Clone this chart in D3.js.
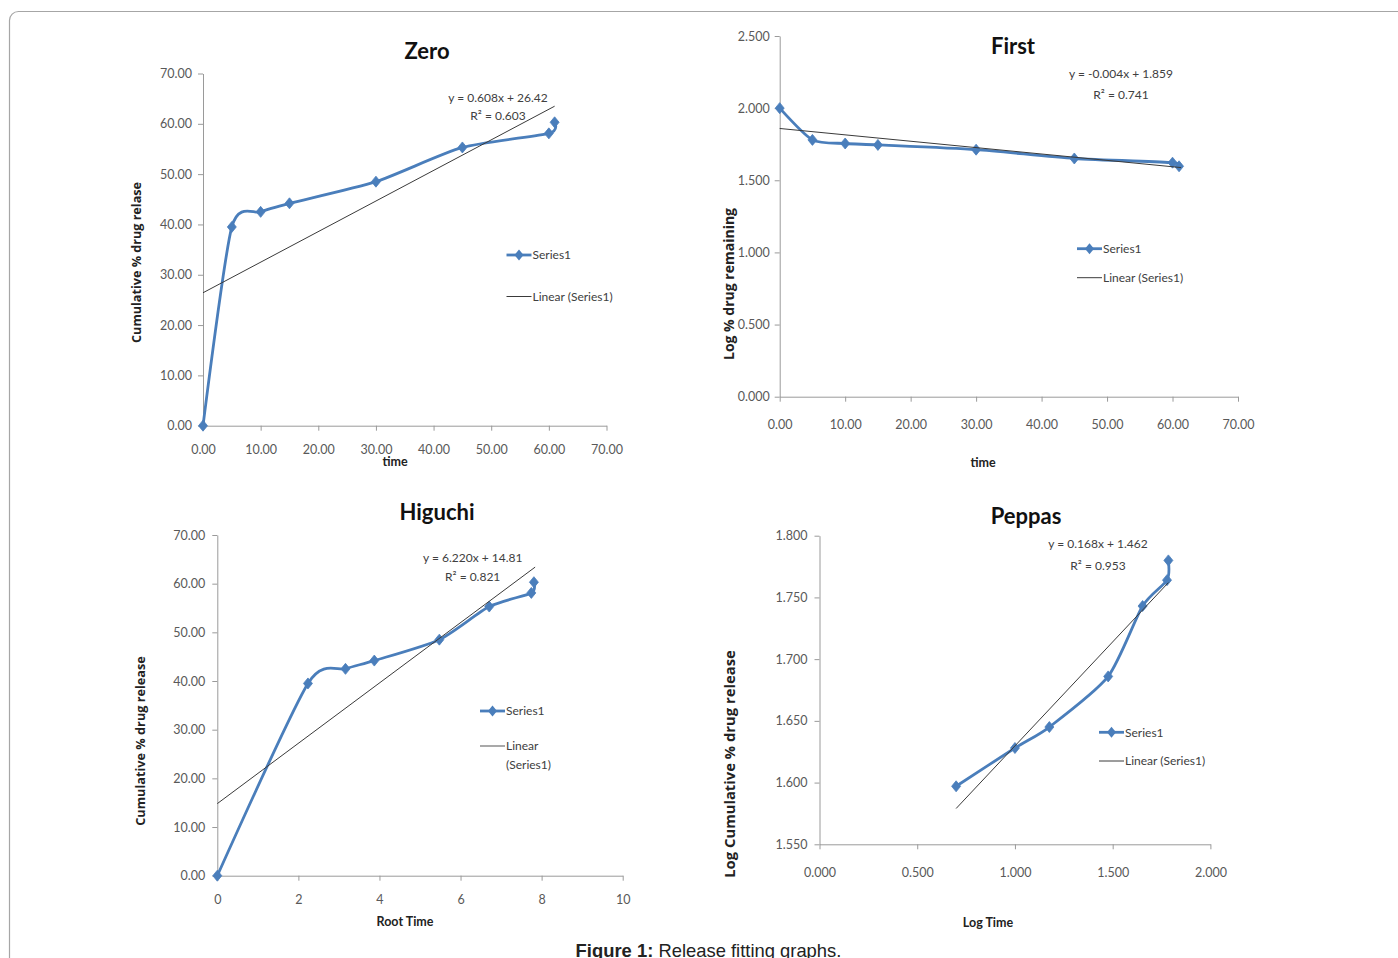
<!DOCTYPE html>
<html>
<head>
<meta charset="utf-8">
<script src="https://cdn.jsdelivr.net/npm/d3@7"></script>
<style>
  body { margin: 0; background: #fff; }
  svg { display: block; }
</style>
</head>
<body>
<svg id="fig" width="1398" height="958"></svg>
<script>

// ---- data ----
var timeMin      = [0, 5, 10, 15, 30, 45, 60, 61];
var zeroRelease  = [0, 39.5, 42.5, 44.2, 48.5, 55.3, 58.1, 60.3];
var zeroTrendX   = [0, 61];
var zeroTrendY   = [26.42, 63.5];

var firstLogRem  = [2.000, 1.780, 1.755, 1.745, 1.712, 1.651, 1.622, 1.597];
var firstTrendX  = [0, 61.3];
var firstTrendY  = [1.859, 1.588];

var rootTime     = [0, 2.236, 3.162, 3.873, 5.477, 6.708, 7.746, 7.810];
var higuchiRel   = [0, 39.5, 42.5, 44.2, 48.5, 55.3, 58.1, 60.3];
var higuchiTrendX = [0, 7.84];
var higuchiTrendY = [14.81, 63.4];

var logTime      = [0.699, 1.000, 1.176, 1.477, 1.653, 1.778, 1.785];
var logRelease   = [1.597, 1.628, 1.645, 1.686, 1.743, 1.764, 1.780];
var peppasTrendX = [0.699, 1.785];
var peppasTrendY = [1.579, 1.762];

var ticks70   = [0, 10, 20, 30, 40, 50, 60, 70];
var ticksLog  = [0, 0.5, 1.0, 1.5, 2.0, 2.5];
var ticksRoot = [0, 2, 4, 6, 8, 10];
var ticksPepX = [0, 0.5, 1.0, 1.5, 2.0];
var ticksPepY = [1.55, 1.60, 1.65, 1.70, 1.75, 1.80];

var equations = [
  ["y = 0.608x + 26.42", "R\u00b2 = 0.603"],
  ["y = -0.004x + 1.859", "R\u00b2 = 0.741"],
  ["y = 6.220x + 14.81", "R\u00b2 = 0.821"],
  ["y = 0.168x + 1.462", "R\u00b2 = 0.953"]
];

var NARROW = 'Lato, "Liberation Sans", sans-serif';
var WIDE   = '"Open Sans", "DejaVu Sans", sans-serif';
var BLUE   = "#4a7ebb";
var TXT    = "#404040";

var svg = d3.select("#fig");

// outer frame, runs off the right and bottom edges
svg.append("rect")
   .attr("x", 9.5).attr("y", 11.5)
   .attr("width", 1420).attr("height", 1000)
   .attr("rx", 9)
   .attr("fill", "none")
   .attr("stroke", "#a6a6a6")
   .attr("stroke-width", 1.2);

function drawPanel(p) {
	var x = d3.scaleLinear().domain(p.xDomain).range(p.xRange);
	var y = d3.scaleLinear().domain(p.yDomain).range(p.yRange);
	var g = svg.append("g");

	var xAxis = g.append("g")
	             .attr("transform", "translate(0," + p.yRange[0] + ")")
	             .call(d3.axisBottom(x).tickValues(p.xTicks).tickFormat(p.xFmt)
	                     .tickSize(5).tickSizeOuter(0).tickPadding(p.xPad));
	var yAxis = g.append("g")
	             .attr("transform", "translate(" + p.xRange[0] + ",0)")
	             .call(d3.axisLeft(y).tickValues(p.yTicks).tickFormat(p.yFmt)
	                     .tickSize(5).tickSizeOuter(0).tickPadding(p.yPad));
	[xAxis, yAxis].forEach(function(a) {
		a.select(".domain").attr("stroke", "#9a9a9a");
		a.selectAll(".tick line").attr("stroke", "#9a9a9a");
		a.selectAll(".tick text")
		 .attr("fill", "#595959")
		 .style("font-family", NARROW)
		 .style("font-size", "12.5px");
	});

	var pts = d3.zip(p.xs, p.ys);

	// series line (smoothed like Excel)
	g.append("path")
	 .datum(pts)
	 .attr("fill", "none")
	 .attr("stroke", BLUE)
	 .attr("stroke-width", 2.8)
	 .attr("stroke-linejoin", "round")
	 .attr("d", d3.line().curve(d3.curveCardinal.tension(0.3))
	              .x(function(d) { return x(d[0]); })
	              .y(function(d) { return y(d[1]); }));

	// diamond markers
	g.selectAll(".mk")
	 .data(pts)
	 .enter().append("path")
	 .attr("class", "mk")
	 .attr("d", "M0,-5.5L4.5,0L0,5.5L-4.5,0Z")
	 .attr("fill", BLUE)
	 .attr("stroke", BLUE)
	 .attr("stroke-width", 0.8)
	 .attr("transform", function(d) { return "translate(" + x(d[0]) + "," + y(d[1]) + ")"; });

	// linear trendline
	g.append("path")
	 .datum(d3.zip(p.tx, p.ty))
	 .attr("fill", "none")
	 .attr("stroke", "#3a3a3a")
	 .attr("stroke-width", 1)
	 .attr("d", d3.line().x(function(d) { return x(d[0]); }).y(function(d) { return y(d[1]); }));

	// title
	g.append("text")
	 .attr("x", p.title[1]).attr("y", p.title[2])
	 .attr("text-anchor", "middle")
	 .style("font-family", NARROW).style("font-weight", "bold").style("font-size", "22px")
	 .attr("fill", "#111")
	 .text(p.title[0]);

	// equation + R2
	g.selectAll(".eq")
	 .data(p.eq)
	 .enter().append("text")
	 .attr("x", p.eqPos[0])
	 .attr("y", function(d, i) { return p.eqPos[1] + i * p.eqGap; })
	 .attr("text-anchor", "middle")
	 .style("font-family", NARROW).style("font-size", "12px")
	 .attr("fill", TXT)
	 .text(function(d) { return d; });

	// legend
	var lx = p.legend[0], ly = p.legend[1], lg = p.legend[2];
	var lf = "12px";
	g.append("line").attr("x1", lx).attr("x2", lx + 25).attr("y1", ly).attr("y2", ly)
	 .attr("stroke", BLUE).attr("stroke-width", 2.8);
	g.append("path").attr("d", "M0,-5.5L4.5,0L0,5.5L-4.5,0Z").attr("fill", BLUE)
	 .attr("transform", "translate(" + (lx + 12.5) + "," + ly + ")");
	g.append("text").attr("x", lx + 26).attr("y", ly).attr("dy", "0.35em")
	 .style("font-family", NARROW).style("font-size", lf).attr("fill", TXT)
	 .text("Series1");
	g.append("line").attr("x1", lx).attr("x2", lx + 25).attr("y1", ly + lg).attr("y2", ly + lg)
	 .attr("stroke", p.wrapLinear ? "#8c8c8c" : "#3a3a3a").attr("stroke-width", p.wrapLinear ? 1.5 : 1);
	var lt = g.append("text").attr("x", lx + 26).attr("y", ly + lg).attr("dy", "0.35em")
	 .style("font-family", NARROW).style("font-size", lf).attr("fill", TXT);
	if (p.wrapLinear) {
		lt.text("Linear");
		g.append("text").attr("x", lx + 26).attr("y", ly + lg + 19).attr("dy", "0.35em")
		 .style("font-family", NARROW).style("font-size", lf).attr("fill", TXT)
		 .text("(Series1)");
	} else {
		lt.text("Linear (Series1)");
	}

	// axis titles
	g.append("text")
	 .attr("x", p.xTitle[1]).attr("y", p.xTitle[2]).attr("dy", "0.35em")
	 .attr("text-anchor", "middle")
	 .style("font-family", NARROW).style("font-weight", "bold").style("font-size", "12.5px")
	 .attr("fill", "#222")
	 .text(p.xTitle[0]);
	g.append("text")
	 .attr("transform", "translate(" + p.yTitle[1] + "," + p.yTitle[2] + ") rotate(-90)")
	 .attr("dy", "0.35em")
	 .attr("text-anchor", "middle")
	 .style("font-family", WIDE).style("font-weight", "bold").style("font-size", p.yTitle[3] + "px")
	 .attr("fill", "#222")
	 .text(p.yTitle[0]);
}

var f2 = d3.format(".2f"), f3 = d3.format(".3f"), f0 = d3.format("d");

drawPanel({
	xs: timeMin, ys: zeroRelease, tx: zeroTrendX, ty: zeroTrendY,
	xDomain: [0, 70], xRange: [203, 606.5], xTicks: ticks70, xFmt: f2, xPad: 14,
	yDomain: [0, 70], yRange: [425.7, 73.5], yTicks: ticks70, yFmt: f2, yPad: 6,
	title: ["Zero", 427, 59], eq: equations[0], eqPos: [498, 102], eqGap: 18,
	legend: [506.5, 255, 41.5],
	xTitle: ["time", 395, 462], yTitle: ["Cumulative % drug relase", 136.5, 262.5, 12.6]
});

drawPanel({
	xs: timeMin, ys: firstLogRem, tx: firstTrendX, ty: firstTrendY,
	xDomain: [0, 70], xRange: [779.7, 1238], xTicks: ticks70, xFmt: f2, xPad: 18,
	yDomain: [0, 2.5], yRange: [396.7, 36], yTicks: ticksLog, yFmt: f3, yPad: 5,
	title: ["First", 1013, 54], eq: equations[1], eqPos: [1121, 78], eqGap: 21,
	legend: [1077, 248.7, 29],
	xTitle: ["time", 983, 462.5], yTitle: ["Log % drug remaining", 728.7, 284, 14]
});

drawPanel({
	xs: rootTime, ys: higuchiRel, tx: higuchiTrendX, ty: higuchiTrendY,
	xDomain: [0, 10], xRange: [217.3, 622.7], xTicks: ticksRoot, xFmt: f0, xPad: 14,
	yDomain: [0, 70], yRange: [875.7, 535], yTicks: ticks70, yFmt: f2, yPad: 7,
	title: ["Higuchi", 437, 520], eq: equations[2], eqPos: [472.7, 562], eqGap: 18.5,
	legend: [480, 711, 35, true], wrapLinear: true,
	xTitle: ["Root Time", 405, 922], yTitle: ["Cumulative % drug release", 140.7, 741, 12.7]
});

drawPanel({
	xs: logTime, ys: logRelease, tx: peppasTrendX, ty: peppasTrendY,
	xDomain: [0, 2], xRange: [819.5, 1210.4], xTicks: ticksPepX, xFmt: f3, xPad: 19,
	yDomain: [1.55, 1.80], yRange: [844.3, 535.7], yTicks: ticksPepY, yFmt: f3, yPad: 7,
	title: ["Peppas", 1026, 524], eq: equations[3], eqPos: [1098, 548], eqGap: 21.5,
	legend: [1099, 732.3, 28.7],
	xTitle: ["Log Time", 988, 922.5], yTitle: ["Log Cumulative % drug release", 729.4, 764, 14.8]
});

// caption
var cap = svg.append("text")
             .attr("x", 708.5).attr("y", 956.5)
             .attr("text-anchor", "middle")
             .style("font-family", '"Liberation Sans", Arial, sans-serif')
             .style("font-size", "18.4px")
             .attr("fill", "#222");
cap.append("tspan").style("font-weight", "bold").text("Figure 1:");
cap.append("tspan").text(" Release fitting graphs.");

</script>
</body>
</html>
